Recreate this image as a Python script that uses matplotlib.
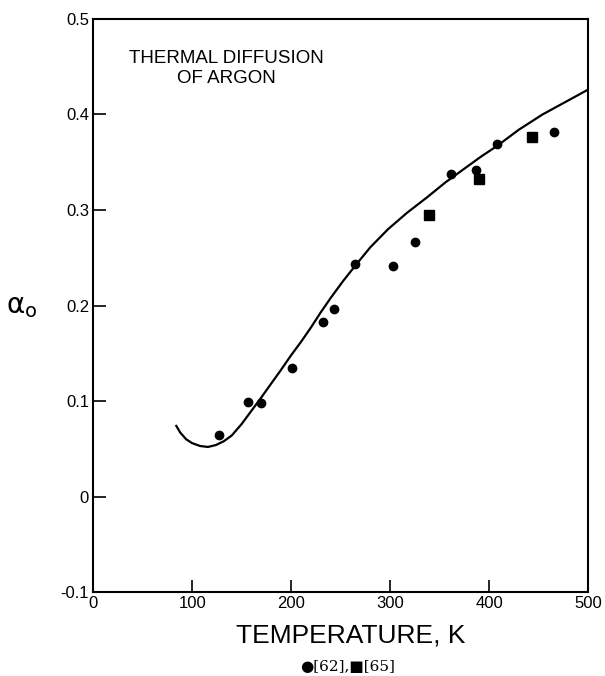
import numpy as np
import matplotlib
matplotlib.use("Agg")
import matplotlib.pyplot as plt

# measured points, [62] circles and [65] squares
t_62 = [127, 156, 170, 201, 232, 243, 265, 303, 325, 362, 387, 408, 466]
a_62 = [0.065, 0.099, 0.098, 0.135, 0.183, 0.196, 0.243, 0.241, 0.266, 0.338, 0.342, 0.369, 0.382]
t_65 = [339, 390, 443]
a_65 = [0.295, 0.332, 0.376]

# theory curve
t_curve = [84, 88, 94, 100, 108, 116, 124, 132, 140, 150, 160, 170, 181, 190, 200,
           210, 220, 230, 240, 252, 265, 280, 298, 317, 337, 356, 376, 392, 408,
           430, 454, 477, 500]
a_curve = [0.074, 0.067, 0.060, 0.056, 0.053, 0.052, 0.054, 0.058, 0.064, 0.076, 0.090,
           0.104, 0.120, 0.133, 0.148, 0.162, 0.177, 0.193, 0.208, 0.225, 0.242, 0.261,
           0.280, 0.297, 0.313, 0.329, 0.344, 0.356, 0.367, 0.384, 0.400, 0.413, 0.426]

x_ticks = [0, 100, 200, 300, 400, 500]
y_ticks = [-0.1, 0, 0.1, 0.2, 0.3, 0.4, 0.5]
y_labels = ["-0.1", "0", "0.1", "0.2", "0.3", "0.4", "0.5"]

plt.rcParams["font.family"] = ["Liberation Sans", "DejaVu Sans"]

fig = plt.figure(figsize=(6.05, 6.76), dpi=100)
ax = fig.add_axes([0.154, 0.124, 0.818, 0.848])

ax.plot(t_curve, a_curve, color="black", lw=1.6, solid_joinstyle="round")
ax.plot(t_62, a_62, "o", color="black", ms=6)
ax.plot(t_65, a_65, "s", color="black", ms=7)

ax.set_xlim(0, 500)
ax.set_ylim(-0.1, 0.5)
ax.set_xticks(x_ticks)
ax.set_xticklabels([str(v) for v in x_ticks])
ax.set_yticks(y_ticks)
ax.set_yticklabels(y_labels)
ax.tick_params(direction="in", length=9, width=1.2, labelsize=12, pad=3)
for s in ax.spines.values():
    s.set_linewidth(1.5)

ax.text(135, 0.448, "THERMAL DIFFUSION\nOF ARGON", ha="center", va="center",
        fontsize=13.5, linespacing=1.2)

ax.set_xlabel("TEMPERATURE, K", fontsize=19)
ax.xaxis.set_label_coords(0.52, -0.055, transform=ax.transAxes)
ax.text(-72, 0.2, "\u03b1$_\\mathregular{o}$", fontsize=20, ha="center", va="center",
        clip_on=False, family=["DejaVu Sans"])

fig.text(0.574, 0.003, "\u25cf[62],\u25a0[65]", ha="center", va="bottom",
         fontsize=11, family=["DejaVu Serif"])

fig.savefig("out.png", dpi=100)
